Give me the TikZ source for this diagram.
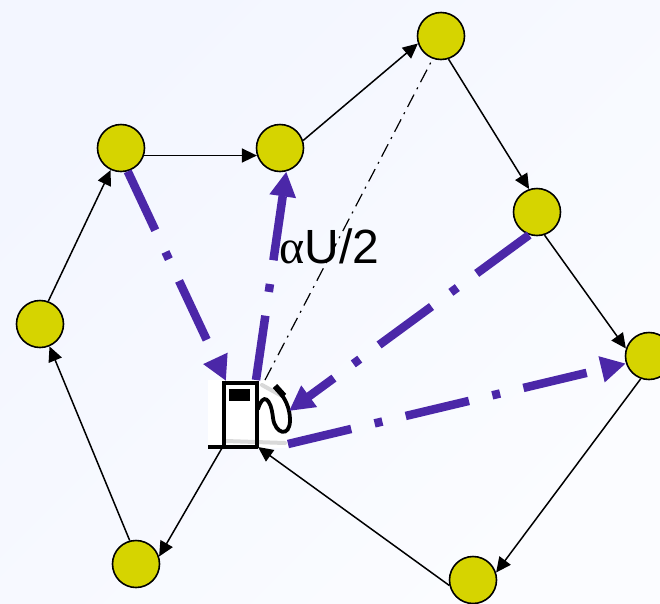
\documentclass[tikz,border=0pt]{standalone}
\usepackage{fontspec}
\setmainfont{Liberation Sans}
\newfontfamily\greekfont{Liberation Serif}
\usetikzlibrary{arrows.meta}
\definecolor{bgA}{HTML}{F3F6FF}
\definecolor{bgB}{HTML}{FBFCFF}
\definecolor{vert}{HTML}{D6D400}
\definecolor{route}{HTML}{4B27A8}
\tikzset{
  vertex/.style={circle,draw=black,fill=vert,line width=1.6pt,minimum size=47pt,inner sep=0pt},
  edge/.style={draw=black,line width=1.5pt,-{Triangle[length=15pt,width=14pt]}},
  tour/.style={draw=route,line width=8.5pt,dash pattern=on 65pt off 24pt on 8pt off 24pt,-{Triangle[length=25pt,width=25pt]}},
  chord/.style={draw=black,line width=1.2pt,dash pattern=on 14pt off 6pt on 2pt off 6pt},
  pumpbox/.style={fill=white,draw=none,minimum width=82pt,minimum height=68pt,inner sep=0pt},
  pumpline/.style={draw=black,line width=4.5pt},
  pumphose/.style={draw=black,line width=3.8pt,line cap=round},
  smudge/.style={draw=black!15,line width=4pt,line cap=round}
}
\begin{document}
\begin{tikzpicture}[x=1pt,y=-1pt]
\useasboundingbox (0,0) rectangle (660,603);
\clip (0,0) rectangle (660,603);
\shade[left color=bgA,right color=bgB,shading angle=45] (0,0) rectangle (660,603);

\node[vertex] (n1) at (121,148) {};
\node[vertex] (n2) at (280,148) {};
\node[vertex] (n3) at (441,36) {};
\node[vertex] (n4) at (537,212) {};
\node[vertex] (n5) at (649,356) {};
\node[vertex] (n6) at (473,580) {};
\node[vertex] (n7) at (136,564) {};
\node[vertex] (n8) at (40,324) {};
\node[pumpbox] (pump) at (249,414) {};

% pump symbol
\draw[smudge] (226,441) -- (285,443);
\draw[smudge] (262,385) -- (282,396);
\draw[pumpline] (224,448) -- (224,383) -- (257,383) -- (257,448);
\fill[black] (229,389) rectangle (250,401);
\draw[pumpline] (208,447) -- (258,447);
\draw[pumphose] (258,409) .. controls (263,392) and (271,398) .. (273,418)
  .. controls (275,434) and (290,438) .. (290,420) .. controls (290,408) and (285,398) .. (278,390);
\draw[black,line width=6pt] (275,386) -- (284,396);

% ends at the pump
\coordinate (p1) at (226,381);
\coordinate (p2) at (256,380);
\coordinate (p3) at (289,411);
\coordinate (p4) at (288,444);
\coordinate (p5) at (265,380);
\coordinate (p6) at (258,447);
\coordinate (p7) at (222,448);

% plain edges
\draw[edge] (n1.-18) -- (n2.198);
\draw[edge] (n2.18) -- (n3.198);
\draw[edge] (n3.-72) -- (n4.109);
\draw[edge] (n4.-72) -- (n5.162);
\draw[edge] (n5.-110) -- (n6.18);
\draw[edge] (n6.193) -- (p6);
\draw[edge] (p7) -- (n7.18);
\draw[edge] (n7.105) -- (n8.-67);
\draw[edge] (n8.70) -- (n1.-115);
\draw[chord] (p5) -- (n3.-110);

% tour
\draw[tour] (n1.-74) -- (p1);
\draw[tour] (p2) -- (n2.-75);
\draw[tour] (n4.-109) -- (p3);
\draw[tour] (p4) -- (n5.198);

\node[anchor=base west,font=\fontsize{48pt}{50pt}\selectfont,inner sep=0pt] (label) at (279,263) {{\greekfont α}U/2};
\end{tikzpicture}
\end{document}
